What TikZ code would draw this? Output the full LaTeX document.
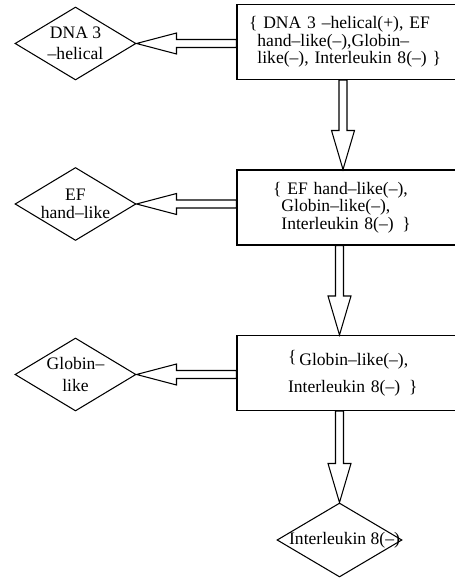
\documentclass[tikz,border=0pt]{standalone}
\usepackage{fontspec}
\setmainfont{Liberation Serif}
\usetikzlibrary{shapes.geometric,calc}

% hollow block arrows, #1 = start on the box, #2 = tip
\newcommand{\hollowleft}[2]{%
  \draw[blockarrow] ($(#2)+(40,10.5)$) -- (#2) -- ($(#2)+(40,-10.5)$) -- ($(#2)+(40,-4)$)
    -- ($(#1)+(0,-4)$) -- ($(#1)+(0,4)$) -- ($(#2)+(40,4)$) -- cycle;}
\newcommand{\hollowdown}[2]{%
  \draw[blockarrow] ($(#2)+(-11.5,39)$) -- (#2) -- ($(#2)+(11.5,39)$) -- ($(#2)+(4,39)$)
    -- ($(#1)+(4,0)$) -- ($(#1)+(-4,0)$) -- ($(#2)+(-4,39)$) -- cycle;}

\begin{document}
\begin{tikzpicture}[
    x=0.02cm, y=0.02cm,
    font=\fontsize{10}{10}\selectfont,
    decision/.style={diamond, draw, line width=0.6pt, aspect=1.65, inner sep=0pt,
        minimum width=2.42cm, minimum height=1.46cm, align=center},
    setbox/.style={rectangle, draw, line width=0.6pt, minimum width=4.76cm,
        minimum height=1.5cm, align=left},
    blockarrow/.style={draw, fill=white, line width=0.6pt, line join=miter}
]
    \useasboundingbox (0,0) rectangle (454,578);

    % Sets
    \node[setbox, inner xsep=0.24cm, text width=4.28cm] (b1) at (356,536)
        {\{ DNA 3 –helical(+), EF\\ \phantom{\{}hand–like(–),Globin–\\
         \phantom{\{}like(–), Interleukin 8(–) \}};
    \node[setbox, inner xsep=0.72cm, text width=3.32cm] (b2) at (356,370.5)
        {\{ EF hand–like(–),\\ \phantom{\{}Globin–like(–),\\
         \phantom{\{}Interleukin 8(–)\enspace\}};
    \node[setbox, inner xsep=1.02cm, text width=2.72cm] (b3) at (356,205)
        {\raisebox{2pt}{\{}\,Globin–like(–),\\[5pt] Interleukin 8(–)\enspace\}};

    % Decisions
    \node[decision] (d1) at (75.5,534.5) {DNA 3\\[2pt]–helical};
    \node[decision] (d2) at (75.5,374) {EF\\hand–like};
    \node[decision] (d3) at (75.5,203.5) {Globin–\\[2pt]like};
    \node[decision, minimum width=2.5cm, minimum height=1.48cm] (d4) at (339.5,38)
        {\makebox[0pt]{\hspace{0.2cm}Interleukin 8(–)}};

    % Arrows
    \coordinate (top1) at ($(b1.south -| d4.north)+(3.5,0)$);
    \coordinate (tip1) at ($(b2.north -| d4.north)+(3.5,0)$);
    \hollowleft{b1.west |- d1.east}{d1.east}
    \hollowleft{b2.west |- d2.east}{d2.east}
    \hollowleft{b3.west |- d3.east}{d3.east}
    \hollowdown{top1}{tip1}
    \hollowdown{b2.south -| d4.north}{b3.north -| d4.north}
    \hollowdown{b3.south -| d4.north}{d4.north}
\end{tikzpicture}
\end{document}
